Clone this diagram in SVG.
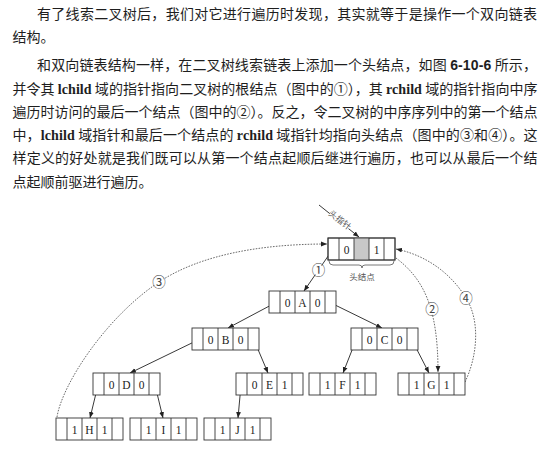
<svg xmlns="http://www.w3.org/2000/svg" xmlns:xlink="http://www.w3.org/1999/xlink" width="553" height="451" viewBox="0 0 553 451">
<style>
.p{font-family:"Noto Sans CJK SC","Noto Sans",sans-serif;font-size:14px;fill:#1e1e1e}
.lat{font-family:"Liberation Serif",serif;font-weight:bold}
.num{font-family:"Liberation Sans",sans-serif;font-weight:bold}
.box{fill:#fff;stroke:#333;stroke-width:0.9}
.div{fill:none;stroke:#333;stroke-width:0.9}
.nt{font-family:"Liberation Serif",serif;font-size:11.5px;fill:#222;text-anchor:middle}
.arr{fill:none;stroke:#222;stroke-width:0.9;marker-end:url(#ah)}
.dotA{fill:none;stroke:#444;stroke-width:0.8;stroke-dasharray:1.6 1.3;marker-end:url(#ah)}
.cl{font-family:"Noto Sans CJK SC",sans-serif;font-size:13.5px;fill:#444;text-anchor:middle}
.sm{font-family:"Noto Sans CJK SC",sans-serif;font-size:8.5px;fill:#555;text-anchor:middle}
</style>
<defs>
<marker id="ah" viewBox="0 0 10 10" refX="10" refY="5" markerWidth="6" markerHeight="6" markerUnits="userSpaceOnUse" orient="auto"><path d="M0,1 L10,5 L0,9 z" fill="#222"/></marker>
<g id="frame"><rect class="box" width="67" height="22"/><path class="div" d="M11,0V22M26,0V22M41,0V22M56,0V22"/></g>
</defs>
<rect width="553" height="451" fill="#fff"/>

<g id="paragraphs">
<text class="p" x="37" y="19" textLength="500" lengthAdjust="spacing">有了线索二叉树后，我们对它进行遍历时发现，其实就等于是操作一个双向链表</text>
<text class="p" x="12.5" y="41.5">结构。</text>
<text class="p" x="37" y="70" textLength="500" lengthAdjust="spacing">和双向链表结构一样，在二叉树线索链表上添加一个头结点，如图 <tspan class="num">6-10-6</tspan> 所示，</text>
<text class="p" x="12.5" y="93.5" textLength="525" lengthAdjust="spacing">并令其 <tspan class="lat">lchild</tspan> 域的指针指向二叉树的根结点（图中的①），其 <tspan class="lat">rchild</tspan> 域的指针指向中序</text>
<text class="p" x="12.5" y="116.5" textLength="525" lengthAdjust="spacing">遍历时访问的最后一个结点（图中的②）。反之，令二叉树的中序序列中的第一个结点</text>
<text class="p" x="12.5" y="140" textLength="525" lengthAdjust="spacing">中，<tspan class="lat">lchild</tspan> 域指针和最后一个结点的 <tspan class="lat">rchild</tspan> 域指针均指向头结点（图中的③和④）。这</text>
<text class="p" x="12.5" y="163" textLength="525" lengthAdjust="spacing">样定义的好处就是我们既可以从第一个结点起顺后继进行遍历，也可以从最后一个结</text>
<text class="p" x="12.5" y="186.5">点起顺前驱进行遍历。</text>
</g>

<g id="connectors">
<line class="arr" x1="319" y1="205" x2="359" y2="237"/>
<line class="arr" x1="333" y1="249" x2="304" y2="291"/>
<line class="arr" x1="275" y1="303" x2="228" y2="328"/>
<line class="arr" x1="331" y1="303" x2="382" y2="328"/>
<line class="arr" x1="198" y1="340" x2="130" y2="373"/>
<line class="arr" x1="254" y1="340" x2="268" y2="373"/>
<line class="arr" x1="356" y1="340" x2="343" y2="373"/>
<line class="arr" x1="412" y1="340" x2="429" y2="373"/>
<line class="arr" x1="98" y1="385" x2="90" y2="418"/>
<line class="arr" x1="155" y1="385" x2="163" y2="418"/>
<line class="arr" x1="241" y1="385" x2="238" y2="418"/>
<path class="dotA" d="M57,417 C62,385 105,318 159,282 C200,255 260,244 327,244"/>
<path class="dotA" d="M396,258 C425,280 438,310 438,372"/>
<path class="dotA" d="M465,382 C478,355 480,320 466,298 C450,272 425,255 396,249"/>
<g transform="translate(340,220) rotate(38)"><rect x="-12" y="-5" width="24" height="10" fill="#fff"/><text class="sm" x="0" y="3">头指针</text></g>
<circle cx="318.5" cy="270" r="5.5" fill="#fff"/><text class="cl" x="318.5" y="275">①</text>
<circle cx="432" cy="309" r="5.5" fill="#fff"/><text class="cl" x="432" y="314">②</text>
<circle cx="159" cy="282" r="5.5" fill="#fff"/><text class="cl" x="159" y="287">③</text>
<circle cx="466" cy="298" r="5.5" fill="#fff"/><text class="cl" x="466" y="303">④</text>
</g>

<g id="node-head" transform="translate(328,238)">
<rect class="box" width="67" height="22"/>
<rect x="26" y="0" width="15" height="22" fill="#c8c8c8"/>
<path class="div" d="M11,0V22M26,0V22M41,0V22M56,0V22"/>
<rect class="div" width="67" height="22"/>
<text class="nt" x="18.5" y="15.5">0</text><text class="nt" x="48.5" y="15.5">1</text>
<path d="M1,23 Q1,27 5,27 L31,27 Q34,27 34,30 Q34,27 37,27 L62,27 Q66,27 66,23" fill="none" stroke="#555" stroke-width="0.8"/>
<text class="sm" x="34" y="42">头结点</text>
</g>
<g id="node-A" transform="translate(269,291)"><use xlink:href="#frame"/><text class="nt" x="18.5" y="15.5">0</text><text class="nt" x="33.5" y="15.5">A</text><text class="nt" x="48.5" y="15.5">0</text></g>
<g id="node-B" transform="translate(192,328)"><use xlink:href="#frame"/><text class="nt" x="18.5" y="15.5">0</text><text class="nt" x="33.5" y="15.5">B</text><text class="nt" x="48.5" y="15.5">0</text></g>
<g id="node-C" transform="translate(351,328)"><use xlink:href="#frame"/><text class="nt" x="18.5" y="15.5">0</text><text class="nt" x="33.5" y="15.5">C</text><text class="nt" x="48.5" y="15.5">0</text></g>
<g id="node-D" transform="translate(93,373)"><use xlink:href="#frame"/><text class="nt" x="18.5" y="15.5">0</text><text class="nt" x="33.5" y="15.5">D</text><text class="nt" x="48.5" y="15.5">0</text></g>
<g id="node-E" transform="translate(236,373)"><use xlink:href="#frame"/><text class="nt" x="18.5" y="15.5">0</text><text class="nt" x="33.5" y="15.5">E</text><text class="nt" x="48.5" y="15.5">1</text></g>
<g id="node-F" transform="translate(309,373)"><use xlink:href="#frame"/><text class="nt" x="18.5" y="15.5">1</text><text class="nt" x="33.5" y="15.5">F</text><text class="nt" x="48.5" y="15.5">1</text></g>
<g id="node-G" transform="translate(398,373)"><use xlink:href="#frame"/><text class="nt" x="18.5" y="15.5">1</text><text class="nt" x="33.5" y="15.5">G</text><text class="nt" x="48.5" y="15.5">1</text></g>
<g id="node-H" transform="translate(56,418)"><use xlink:href="#frame"/><text class="nt" x="18.5" y="15.5">1</text><text class="nt" x="33.5" y="15.5">H</text><text class="nt" x="48.5" y="15.5">1</text></g>
<g id="node-I" transform="translate(130,418)"><use xlink:href="#frame"/><text class="nt" x="18.5" y="15.5">1</text><text class="nt" x="33.5" y="15.5">I</text><text class="nt" x="48.5" y="15.5">1</text></g>
<g id="node-J" transform="translate(204,418)"><use xlink:href="#frame"/><text class="nt" x="18.5" y="15.5">1</text><text class="nt" x="33.5" y="15.5">J</text><text class="nt" x="48.5" y="15.5">1</text></g>
</svg>
